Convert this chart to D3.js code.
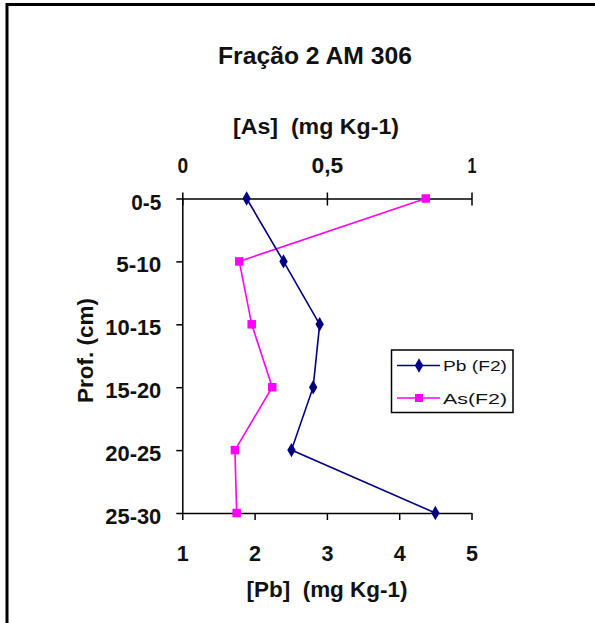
<!DOCTYPE html>
<html><head><meta charset="utf-8">
<script src="https://cdn.jsdelivr.net/npm/d3@7"></script>
<style>
body{margin:0;background:#fff;}
svg text{font-family:"Liberation Sans",Arial,sans-serif;fill:#111;white-space:pre;}
</style></head>
<body><svg id="c" width="595" height="623"></svg>
<script>
const categories = ["0-5","5-10","10-15","15-20","20-25","25-30"];
const pbValues = [1.89, 2.40, 2.90, 2.81, 2.51, 4.50];
const asValues = [0.842, 0.197, 0.240, 0.311, 0.182, 0.188];
const pbTicks = [1,2,3,4,5];
const asTicks = [0,0.5,1];
const asTickLabels = ["0","0,5","1"];
const title = "Fração 2 AM 306";
const asTitle = "[As]  (mg Kg-1)";
const pbTitle = "[Pb]  (mg Kg-1)";
const yTitle = "Prof. (cm)";
const seriesNames = ["Pb (F2)","As(F2)"];
const colors = {pb:"#000080", as:"#FF00FF"};

const svg = d3.select("#c");
// frame
svg.append("path").attr("d","M7,623V4.5H595").attr("fill","none").attr("stroke","#000").attr("stroke-width",3);

const x0 = 182.3, x1 = 471.5, yTop = 198.5, yBot = 513;
const xPb = d3.scaleLinear().domain([1,5]).range([x0,x1]);
const xAs = d3.scaleLinear().domain([0,1]).range([x0,x1]);
const y = d3.scalePoint().domain(categories).range([yTop,yBot]);

// title
svg.append("text").attr("x",315).attr("y",64).attr("text-anchor","middle")
  .attr("font-size",23).attr("font-weight","bold").attr("textLength",194).attr("lengthAdjust","spacingAndGlyphs").text(title);

// top axis
const gTop = svg.append("g").attr("transform",`translate(0,${yTop})`)
  .call(d3.axisTop(xAs).tickValues(asTicks).tickFormat((d,i)=>asTickLabels[i]).tickSizeOuter(0).tickSizeInner(6).tickPadding(20));
gTop.selectAll(".tick line").attr("y1",7).attr("y2",-6).attr("stroke","#000").attr("stroke-width",1.5);
gTop.select(".domain").attr("stroke","#000").attr("stroke-width",1.5);
gTop.selectAll(".tick text").attr("font-size",22).attr("font-weight","bold").attr("fill","#111")
  .attr("font-family","Liberation Sans, Arial").attr("y",-26)
  .each(function(d,i){ const w=[10.7,31.7,9][i]; d3.select(this).attr("textLength",w).attr("lengthAdjust","spacingAndGlyphs"); });

// bottom axis
const gBot = svg.append("g").attr("transform",`translate(0,${yBot})`)
  .call(d3.axisBottom(xPb).tickValues(pbTicks).tickFormat(d3.format("d")).tickSizeOuter(0).tickSizeInner(7).tickPadding(25));
gBot.selectAll(".tick line").attr("stroke","#000").attr("stroke-width",1.5);
gBot.select(".domain").attr("stroke","#000").attr("stroke-width",1.5);
gBot.selectAll(".tick text").attr("font-size",22).attr("font-weight","bold").attr("fill","#111")
  .attr("font-family","Liberation Sans, Arial").attr("dy",null).attr("y",48)
  .attr("textLength",12).attr("lengthAdjust","spacingAndGlyphs");

// left axis
const gLeft = svg.append("g").attr("transform",`translate(${x0},0)`)
  .call(d3.axisLeft(y).tickSizeOuter(0).tickSizeInner(6).tickPadding(14));
gLeft.selectAll(".tick line").attr("stroke","#000").attr("stroke-width",1.5);
gLeft.select(".domain").attr("stroke","#000").attr("stroke-width",1.5);
gLeft.selectAll(".tick text").attr("font-size",22).attr("font-weight","bold").attr("fill","#111")
  .attr("font-family","Liberation Sans, Arial").attr("dy","0.48em").attr("x",-21)
  .each(function(d){ const w={"0-5":30,"5-10":45}[d]||56; d3.select(this).attr("textLength",w).attr("lengthAdjust","spacingAndGlyphs"); });

// axis titles
svg.append("text").attr("x",316).attr("y",134).attr("text-anchor","middle")
  .attr("font-size",22).attr("font-weight","bold").attr("textLength",166).attr("lengthAdjust","spacingAndGlyphs").text(asTitle);
svg.append("text").attr("x",327).attr("y",597).attr("text-anchor","middle")
  .attr("font-size",22).attr("font-weight","bold").attr("textLength",161).attr("lengthAdjust","spacingAndGlyphs").text(pbTitle);
svg.append("text").attr("transform","translate(93,350.5) rotate(-90)").attr("text-anchor","middle")
  .attr("font-size",22).attr("font-weight","bold").attr("textLength",105).attr("lengthAdjust","spacingAndGlyphs").text(yTitle);

// series
const pbData = categories.map((c,i)=>({c,v:pbValues[i]}));
const asData = categories.map((c,i)=>({c,v:asValues[i]}));
svg.append("path").datum(asData).attr("fill","none").attr("stroke",colors.as).attr("stroke-width",1.6)
  .attr("d",d3.line().x(d=>xAs(d.v)).y(d=>y(d.c)));
svg.append("path").datum(pbData).attr("fill","none").attr("stroke",colors.pb).attr("stroke-width",1.6)
  .attr("d",d3.line().x(d=>xPb(d.v)).y(d=>y(d.c)));
svg.selectAll(".mas").data(asData).join("path").attr("class","mas")
  .attr("transform",d=>`translate(${xAs(d.v)},${y(d.c)})`)
  .attr("d",d3.symbol(d3.symbolSquare,72)).attr("fill",colors.as);
svg.selectAll(".mpb").data(pbData).join("path").attr("class","mpb")
  .attr("transform",d=>`translate(${xPb(d.v)},${y(d.c)})`)
  .attr("d",d3.symbol(d3.symbolDiamond,60)).attr("fill",colors.pb);

// legend
const lg = svg.append("g");
lg.append("rect").attr("x",391.5).attr("y",350).attr("width",121.5).attr("height",62.5)
  .attr("fill","#fff").attr("stroke","#000").attr("stroke-width",1.5);
const rows = [{n:seriesNames[0],c:colors.pb,s:d3.symbolDiamond,sz:60,y:365.5},
              {n:seriesNames[1],c:colors.as,s:d3.symbolSquare,sz:64,y:398}];
rows.forEach(r=>{
  lg.append("line").attr("x1",397).attr("x2",440).attr("y1",r.y).attr("y2",r.y).attr("stroke",r.c).attr("stroke-width",1.6);
  lg.append("path").attr("transform",`translate(419,${r.y})`).attr("d",d3.symbol(r.s,r.sz)).attr("fill",r.c);
  lg.append("text").attr("x",443).attr("y",r.y+5.5).attr("font-size",15).attr("textLength",64).attr("lengthAdjust","spacingAndGlyphs").text(r.n);
});
</script></body></html>
